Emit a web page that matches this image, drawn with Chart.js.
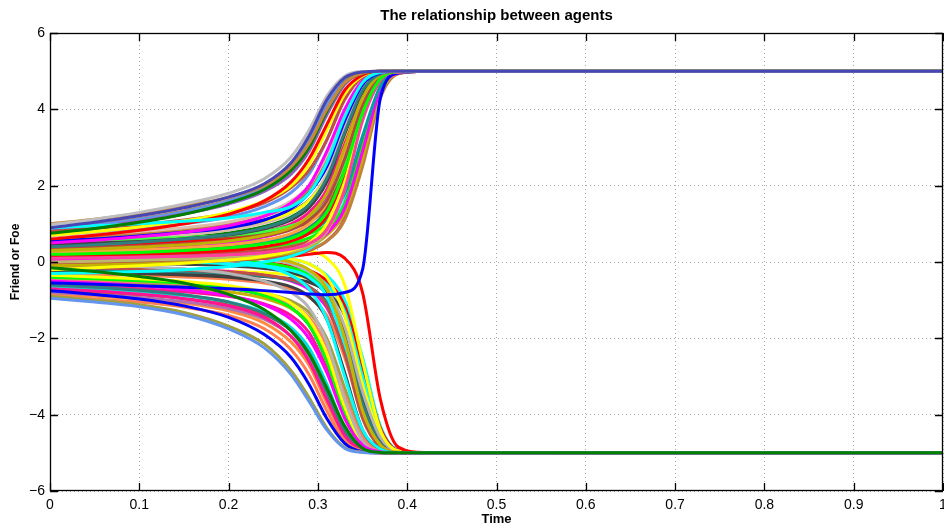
<!DOCTYPE html>
<html>
<head>
<meta charset="utf-8">
<script src="https://cdn.jsdelivr.net/npm/chart.js@4/dist/chart.umd.min.js"></script>
<style>
  html, body { margin: 0; padding: 0; background: #fff; }
  #wrap { width: 944px; height: 529px; position: relative; }
</style>
</head>
<body>
<div id="wrap"><canvas id="canvas"></canvas></div>
<script>
// sample times shared by every agent curve
var sampleTimes = [0, 0.05, 0.1, 0.15, 0.2, 0.24, 0.27, 0.29, 0.31, 0.33, 0.35, 0.37, 0.39, 0.42, 1];

var xTicks = [0, 0.1, 0.2, 0.3, 0.4, 0.5, 0.6, 0.7, 0.8, 0.9, 1];
var yTicks = [-6, -4, -2, 0, 2, 4, 6];

// curves that end up at +5 (friends), first one is drawn on top
var risingCurves = [
  [0.9, 1.04, 1.21, 1.42, 1.7, 2.05, 2.6, 3.3, 4.25, 4.83, 4.98, 5, 5, 5, 5],
  [0.97, 1.12, 1.3, 1.52, 1.8, 2.18, 2.75, 3.45, 4.35, 4.87, 4.99, 5, 5, 5, 5],
  [1.0, 1.12, 1.27, 1.46, 1.7, 2.0, 2.5, 3.1, 4.0, 4.7, 4.95, 5, 5, 5, 5],
  [0.75, 0.88, 1.04, 1.25, 1.55, 1.9, 2.4, 3.0, 3.95, 4.7, 4.95, 5, 5, 5, 5],
  [0.9, 0.95, 1.0, 1.07, 1.15, 1.3, 1.45, 1.8, 2.6, 3.8, 4.7, 4.97, 5, 5, 5],
  [0.6, 0.7, 0.83, 1.0, 1.25, 1.6, 2.1, 2.7, 3.6, 4.5, 4.9, 5, 5, 5, 5],
  [0.7, 0.8, 0.92, 1.08, 1.3, 1.6, 2.0, 2.55, 3.45, 4.4, 4.88, 4.99, 5, 5, 5],
  [0.8, 0.88, 0.98, 1.1, 1.28, 1.55, 1.95, 2.4, 3.2, 4.25, 4.85, 4.99, 5, 5, 5],
  [0.5, 0.57, 0.66, 0.78, 0.95, 1.2, 1.55, 2.0, 2.9, 4.0, 4.75, 4.97, 5, 5, 5],
  [0.55, 0.6, 0.68, 0.78, 0.9, 1.1, 1.4, 1.8, 2.5, 3.7, 4.65, 4.96, 5, 5, 5],
  [0.65, 0.72, 0.8, 0.9, 1.05, 1.28, 1.6, 2.0, 2.8, 3.9, 4.7, 4.97, 5, 5, 5],
  [0.4, 0.45, 0.52, 0.6, 0.72, 0.9, 1.15, 1.5, 2.2, 3.4, 4.5, 4.93, 5, 5, 5],
  [0.3, 0.34, 0.39, 0.45, 0.55, 0.7, 0.9, 1.2, 1.8, 3.0, 4.3, 4.9, 5, 5, 5],
  [0.2, 0.22, 0.25, 0.3, 0.37, 0.48, 0.62, 0.85, 1.3, 2.4, 3.9, 4.8, 4.99, 5, 5],
  [0.35, 0.38, 0.42, 0.48, 0.56, 0.68, 0.85, 1.1, 1.6, 2.7, 4.1, 4.85, 4.99, 5, 5],
  [0.1, 0.11, 0.13, 0.15, 0.19, 0.25, 0.34, 0.48, 0.85, 1.9, 3.7, 4.75, 4.98, 5, 5],
  [0.45, 0.49, 0.54, 0.61, 0.71, 0.87, 1.1, 1.42, 2.1, 3.35, 4.45, 4.9, 4.99, 5, 5],
  [0.55, 0.57, 0.6, 0.64, 0.7, 0.8, 0.95, 1.15, 1.6, 2.6, 3.95, 4.8, 4.99, 5, 5],
  [0.7, 0.78, 0.88, 1.0, 1.18, 1.45, 1.82, 2.3, 3.2, 4.3, 4.86, 4.99, 5, 5, 5],
  [-0.2, -0.15, -0.1, -0.03, 0.05, 0.15, 0.3, 0.5, 1.0, 2.1, 3.8, 4.8, 4.98, 5, 5],
  [-0.55, -0.58, -0.62, -0.66, -0.7, -0.75, -0.8, -0.84, -0.86, -0.8, -0.2, 4.3, 4.95, 5, 5],
  [0.0, 0.02, 0.05, 0.08, 0.12, 0.18, 0.28, 0.42, 0.8, 1.9, 3.8, 4.8, 4.98, 5, 5],
  [0.25, 0.28, 0.32, 0.37, 0.45, 0.57, 0.75, 1.0, 1.55, 2.8, 4.25, 4.88, 4.99, 5, 5],
  [0.8, 0.92, 1.07, 1.26, 1.52, 1.85, 2.3, 2.9, 3.85, 4.65, 4.95, 5, 5, 5, 5],
  [0.6, 0.66, 0.74, 0.84, 0.98, 1.2, 1.5, 1.9, 2.7, 3.95, 4.75, 4.97, 5, 5, 5],
  [0.15, 0.17, 0.2, 0.24, 0.3, 0.4, 0.55, 0.75, 1.2, 2.3, 3.95, 4.82, 4.99, 5, 5],
  [0.3, 0.33, 0.37, 0.43, 0.52, 0.66, 0.86, 1.15, 1.75, 3.0, 4.35, 4.9, 5, 5, 5],
  [0.5, 0.52, 0.55, 0.6, 0.66, 0.75, 0.88, 1.05, 1.45, 2.5, 4.0, 4.85, 4.99, 5, 5],
  [0.35, 0.36, 0.38, 0.41, 0.46, 0.54, 0.65, 0.8, 1.1, 1.8, 3.3, 4.6, 4.97, 5, 5],
  [0.05, 0.06, 0.08, 0.1, 0.14, 0.2, 0.3, 0.45, 0.75, 1.4, 2.9, 4.5, 4.95, 5, 5],
  [-0.1, -0.08, -0.05, -0.01, 0.05, 0.13, 0.25, 0.4, 0.7, 1.3, 2.7, 4.4, 4.95, 5, 5],
  [0.25, 0.26, 0.28, 0.3, 0.34, 0.4, 0.5, 0.63, 0.9, 1.5, 3.0, 4.55, 4.97, 5, 5],
  [0.4, 0.43, 0.47, 0.52, 0.6, 0.72, 0.88, 1.1, 1.55, 2.5, 3.95, 4.8, 4.98, 5, 5],
  [0.15, 0.16, 0.18, 0.2, 0.24, 0.3, 0.4, 0.55, 0.85, 1.5, 3.1, 4.6, 4.97, 5, 5],
  [0.6, 0.65, 0.72, 0.8, 0.92, 1.08, 1.3, 1.6, 2.2, 3.3, 4.5, 4.93, 5, 5, 5],
  [0.35, 0.4, 0.46, 0.54, 0.65, 0.8, 1.0, 1.3, 1.9, 3.2, 4.45, 4.92, 5, 5, 5],
  [0.2, 0.23, 0.27, 0.32, 0.4, 0.52, 0.68, 0.9, 1.35, 2.3, 3.8, 4.75, 4.98, 5, 5],
  [0.5, 0.55, 0.62, 0.71, 0.84, 1.02, 1.28, 1.62, 2.3, 3.5, 4.55, 4.94, 5, 5, 5],
  [0.85, 0.97, 1.12, 1.32, 1.6, 1.96, 2.48, 3.15, 4.1, 4.76, 4.97, 5, 5, 5, 5],
  [0.85, 0.98, 1.14, 1.34, 1.62, 1.98, 2.5, 3.2, 4.15, 4.8, 4.98, 5, 5, 5, 5],
  [0.45, 0.5, 0.56, 0.64, 0.76, 0.93, 1.18, 1.5, 2.15, 3.3, 4.45, 4.92, 5, 5, 5],
  [-0.3, -0.28, -0.25, -0.2, -0.12, 0.0, 0.15, 0.35, 0.75, 1.6, 3.2, 4.6, 4.97, 5, 5],
  [0.65, 0.7, 0.76, 0.84, 0.95, 1.1, 1.32, 1.62, 2.25, 3.4, 4.5, 4.93, 5, 5, 5],
  [0.1, 0.1, 0.11, 0.12, 0.14, 0.18, 0.24, 0.33, 0.55, 1.1, 2.5, 4.3, 4.93, 5, 5],
  [0.45, 0.46, 0.47, 0.49, 0.52, 0.57, 0.64, 0.74, 0.98, 1.55, 2.9, 4.45, 4.95, 5, 5],
  [-0.05, -0.04, -0.02, 0.0, 0.04, 0.1, 0.19, 0.3, 0.55, 1.15, 2.6, 4.35, 4.94, 5, 5],
  [0.3, 0.3, 0.31, 0.32, 0.34, 0.38, 0.44, 0.53, 0.75, 1.3, 2.75, 4.4, 4.95, 5, 5]
];
var risingColors = ['#4646b4', '#bebebe', '#c8873c', '#007f00', '#00ffff', '#ff0000', '#ffff00',
  '#bf4f45', '#ff00ff', '#0000ff', '#dcbcaa', '#2f8080', '#c0b000', '#00ff00', '#b04a40',
  '#ff3fa0', '#404040', '#40ff40', '#6495ed', '#ffff00', '#0000ff', '#bdb76b', '#ffa040',
  '#9060c0', '#c08040', '#ff0000', '#ff00ff', '#a0522d', '#00a0a0', '#ff00ff', '#c0b000',
  '#00ff00', '#ff0000', '#bf4f45', '#ffff00', '#ff1493', '#2f8080', '#dcbcaa', '#6495ed',
  '#c8873c', '#007f00', '#00ffff', '#404040', '#c08040', '#00ff00', '#bf4f45', '#a0a040'];

// curves that end up at -5 (foes)
var fallingCurves = [
  [-0.15, -0.25, -0.38, -0.55, -0.85, -1.25, -1.8, -2.4, -3.3, -4.3, -4.88, -4.99, -5, -5, -5],
  [-0.95, -1.05, -1.17, -1.38, -1.75, -2.25, -2.95, -3.65, -4.4, -4.88, -4.99, -5, -5, -5, -5],
  [-0.9, -1.0, -1.12, -1.32, -1.68, -2.15, -2.85, -3.55, -4.35, -4.86, -4.98, -5, -5, -5, -5],
  [-0.75, -0.85, -0.97, -1.15, -1.45, -1.9, -2.5, -3.2, -4.1, -4.75, -4.97, -5, -5, -5, -5],
  [-0.9, -0.97, -1.05, -1.18, -1.4, -1.75, -2.3, -2.95, -3.9, -4.7, -4.95, -5, -5, -5, -5],
  [-0.7, -0.76, -0.84, -0.96, -1.15, -1.45, -1.95, -2.6, -3.6, -4.55, -4.92, -5, -5, -5, -5],
  [-0.6, -0.66, -0.74, -0.86, -1.05, -1.35, -1.8, -2.4, -3.4, -4.45, -4.9, -4.99, -5, -5, -5],
  [-0.5, -0.55, -0.62, -0.72, -0.88, -1.12, -1.5, -2.0, -2.9, -4.1, -4.8, -4.97, -5, -5, -5],
  [0.2, 0.18, 0.15, 0.12, 0.05, -0.1, -0.35, -0.7, -1.5, -3.0, -4.4, -4.9, -5, -5, -5],
  [0.1, 0.1, 0.1, 0.1, 0.08, 0.1, 0.15, 0.2, 0.25, 0.1, -0.8, -3.6, -4.85, -4.99, -5],
  [-0.05, -0.08, -0.12, -0.18, -0.3, -0.5, -0.8, -1.2, -2.1, -3.6, -4.7, -4.97, -5, -5, -5],
  [-0.35, -0.39, -0.44, -0.51, -0.62, -0.8, -1.08, -1.5, -2.4, -3.8, -4.75, -4.98, -5, -5, -5],
  [-0.25, -0.27, -0.3, -0.34, -0.4, -0.5, -0.65, -0.9, -1.5, -2.9, -4.4, -4.9, -5, -5, -5],
  [-0.4, -0.44, -0.49, -0.56, -0.68, -0.88, -1.2, -1.65, -2.6, -3.95, -4.8, -4.98, -5, -5, -5],
  [0.05, 0.06, 0.08, 0.1, 0.12, 0.1, 0.0, -0.2, -0.7, -2.0, -3.9, -4.8, -4.98, -5, -5],
  [-0.8, -0.86, -0.93, -1.04, -1.22, -1.5, -1.95, -2.5, -3.5, -4.5, -4.92, -4.99, -5, -5, -5],
  [-0.45, -0.48, -0.52, -0.58, -0.68, -0.85, -1.1, -1.45, -2.2, -3.5, -4.6, -4.95, -5, -5, -5],
  [-0.15, -0.16, -0.18, -0.21, -0.26, -0.34, -0.46, -0.65, -1.15, -2.4, -4.1, -4.85, -4.99, -5, -5],
  [-0.65, -0.7, -0.77, -0.88, -1.05, -1.32, -1.72, -2.25, -3.2, -4.35, -4.88, -4.99, -5, -5, -5],
  [-0.85, -0.9, -0.97, -1.08, -1.28, -1.6, -2.1, -2.7, -3.7, -4.6, -4.95, -5, -5, -5, -5],
  [0.3, 0.3, 0.3, 0.3, 0.32, 0.35, 0.35, 0.3, 0.1, -0.6, -2.6, -4.4, -4.95, -5, -5],
  [0.05, 0.04, 0.02, 0.0, -0.05, -0.12, -0.22, -0.4, -0.9, -2.2, -4.0, -4.85, -4.99, -5, -5],
  [-0.3, -0.32, -0.35, -0.39, -0.45, -0.55, -0.7, -0.92, -1.4, -2.5, -4.0, -4.8, -4.98, -5, -5],
  [0.35, 0.33, 0.3, 0.25, 0.18, 0.08, -0.05, -0.25, -0.7, -1.7, -3.4, -4.6, -4.96, -5, -5],
  [-0.2, -0.21, -0.23, -0.26, -0.3, -0.37, -0.48, -0.65, -1.05, -2.0, -3.7, -4.75, -4.98, -5, -5],
  [0.0, -0.01, -0.03, -0.06, -0.1, -0.17, -0.28, -0.45, -0.85, -1.8, -3.6, -4.7, -4.97, -5, -5],
  [-0.1, -0.12, -0.15, -0.19, -0.25, -0.35, -0.5, -0.72, -1.2, -2.3, -3.9, -4.78, -4.98, -5, -5],
  [-0.55, -0.58, -0.62, -0.68, -0.78, -0.95, -1.22, -1.6, -2.4, -3.7, -4.7, -4.96, -5, -5, -5],
  [0.15, 0.14, 0.12, 0.1, 0.06, -0.02, -0.15, -0.35, -0.8, -1.9, -3.7, -4.75, -4.98, -5, -5],
  [-0.6, -0.64, -0.7, -0.78, -0.9, -1.1, -1.4, -1.85, -2.8, -4.0, -4.8, -4.98, -5, -5, -5],
  [-0.35, -0.4, -0.46, -0.55, -0.68, -0.88, -1.2, -1.65, -2.6, -3.95, -4.8, -4.98, -5, -5, -5],
  [0.25, 0.25, 0.24, 0.22, 0.2, 0.15, 0.08, -0.05, -0.4, -1.4, -3.2, -4.55, -4.95, -5, -5],
  [0.0, 0.0, -0.01, -0.03, -0.06, -0.1, -0.18, -0.3, -0.6, -1.3, -3.0, -4.5, -4.95, -5, -5],
  [-0.75, -0.8, -0.86, -0.96, -1.12, -1.38, -1.78, -2.3, -3.3, -4.4, -4.9, -4.99, -5, -5, -5],
  [-0.5, -0.52, -0.55, -0.6, -0.68, -0.82, -1.02, -1.32, -2.0, -3.3, -4.5, -4.94, -5, -5, -5],
  [0.1, 0.09, 0.08, 0.06, 0.03, -0.02, -0.1, -0.22, -0.5, -1.15, -2.7, -4.35, -4.94, -5, -5],
  [-0.3, -0.3, -0.31, -0.32, -0.34, -0.38, -0.44, -0.53, -0.78, -1.4, -2.9, -4.45, -4.95, -5, -5],
  [0.4, 0.38, 0.35, 0.31, 0.26, 0.18, 0.08, -0.05, -0.35, -1.0, -2.5, -4.3, -4.93, -5, -5],
  [-0.2, -0.2, -0.21, -0.22, -0.24, -0.28, -0.34, -0.43, -0.65, -1.25, -2.8, -4.4, -4.95, -5, -5]
];
var fallingColors = ['#008000', '#6495ed', '#a0a040', '#0000ff', '#ff7f50', '#ff1493', '#2f8080',
  '#ff00ff', '#00ffff', '#ff0000', '#b4b4b4', '#ffff00', '#404040', '#00ff00', '#c8b400',
  '#b070b0', '#fa8072', '#bf4f45', '#00e0e0', '#ff8c40', '#ffff00', '#00ffff', '#ff7f50',
  '#b4b4b4', '#2f8080', '#404040', '#ff00ff', '#c8b400', '#00ff00', '#ff1493', '#0000ff',
  '#ffff00', '#00ffff', '#bf4f45', '#a0a040', '#ff0000', '#404040', '#00ffff', '#ffff00'];

function toPoints(vals) {
  return vals.map(function(v, i) { return { x: sampleTimes[i], y: v }; });
}

var datasets = [];
// the two "winning" colours go first so they end up on top
datasets.push({ data: toPoints(risingCurves[0]), borderColor: risingColors[0] });
datasets.push({ data: toPoints(fallingCurves[0]), borderColor: fallingColors[0] });
for (var i = 1; i < risingCurves.length; i++) {
  datasets.push({ data: toPoints(risingCurves[i]), borderColor: risingColors[i] });
}
for (var j = 1; j < fallingCurves.length; j++) {
  datasets.push({ data: toPoints(fallingCurves[j]), borderColor: fallingColors[j] });
}

var fontFam = "'Liberation Sans', Arial, Helvetica, sans-serif";

// matlab style frame with inward tick marks
var framePlugin = {
  id: 'frame',
  afterDatasetsDraw: function(chart) {
    var ctx = chart.ctx, a = chart.chartArea;
    var xs = chart.scales.x, ys = chart.scales.y;
    ctx.save();
    ctx.strokeStyle = '#000';
    ctx.lineWidth = 1.3;
    ctx.strokeRect(a.left + 0.5, a.top + 0.5, a.right - a.left - 1, a.bottom - a.top - 1);
    ctx.beginPath();
    xTicks.forEach(function(v) {
      var px = Math.round(xs.getPixelForValue(v)) + 0.5;
      ctx.moveTo(px, a.bottom); ctx.lineTo(px, a.bottom - 8);
      ctx.moveTo(px, a.top); ctx.lineTo(px, a.top + 8);
    });
    yTicks.forEach(function(v) {
      var py = Math.round(ys.getPixelForValue(v)) + 0.5;
      ctx.moveTo(a.left, py); ctx.lineTo(a.left + 8, py);
      ctx.moveTo(a.right, py); ctx.lineTo(a.right - 8, py);
    });
    ctx.stroke();
    ctx.restore();
  }
};

var ctx = document.getElementById('canvas').getContext('2d');
new Chart(ctx, {
  type: 'line',
  data: { datasets: datasets },
  options: {
    responsive: true,
    maintainAspectRatio: false,
    animation: false,
    layout: { padding: { right: 1 } },
    datasets: {
      line: {
        borderWidth: 3,
        pointRadius: 0,
        fill: false,
        cubicInterpolationMode: 'monotone'
      }
    },
    plugins: {
      legend: { display: false },
      tooltip: { enabled: false },
      title: {
        display: true,
        fullSize: false,
        text: 'The relationship between agents',
        color: '#000',
        font: { family: fontFam, size: 15, weight: 'bold' },
        padding: { top: 7, bottom: 8 }
      }
    },
    scales: {
      x: {
        type: 'linear',
        min: 0,
        max: 1,
        afterBuildTicks: function(s) { s.ticks = xTicks.map(function(v) { return { value: v }; }); },
        afterFit: function(s) { s.height = 38; s.paddingLeft = 0; s.paddingRight = 0; },
        ticks: {
          color: '#000',
          padding: 6,
          maxRotation: 0,
          font: { family: fontFam, size: 14 },
          callback: function(v) { return String(+v.toFixed(1)); }
        },
        grid: { color: '#a8a8a8', lineWidth: 1, drawTicks: false },
        border: { display: false, dash: [1, 3] },
        title: {
          display: true,
          text: 'Time',
          color: '#000',
          font: { family: fontFam, size: 13, weight: 'bold' },
          padding: { top: 0, bottom: 2 }
        }
      },
      y: {
        type: 'linear',
        min: -6,
        max: 6,
        afterBuildTicks: function(s) { s.ticks = yTicks.map(function(v) { return { value: v }; }); },
        afterFit: function(s) { s.width = 50; s.paddingTop = 0; s.paddingBottom = 0; },
        ticks: {
          color: '#000',
          padding: 5,
          font: { family: fontFam, size: 14 },
          callback: function(v) { return v < 0 ? '\u2212' + Math.abs(v) : String(v); }
        },
        grid: { color: '#a8a8a8', lineWidth: 1, drawTicks: false },
        border: { display: false, dash: [1, 3] },
        title: {
          display: true,
          text: 'Friend or Foe',
          color: '#000',
          font: { family: fontFam, size: 12, weight: 'bold' },
          padding: { top: 8, bottom: 0 }
        }
      }
    }
  },
  plugins: [framePlugin]
});
</script>
</body>
</html>
